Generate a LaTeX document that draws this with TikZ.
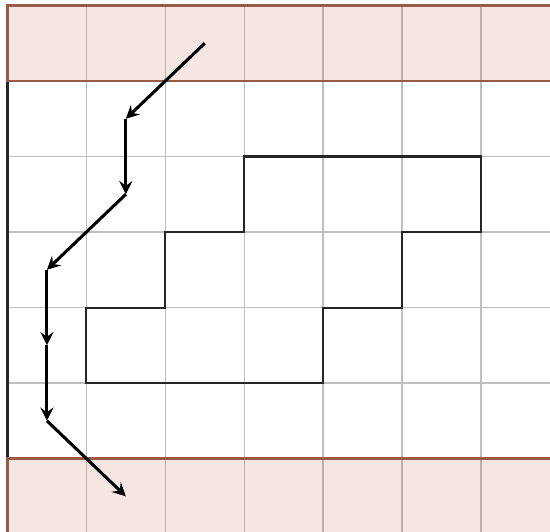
\documentclass[tikz,border=0pt]{standalone}
\usepackage{tikz}
\usetikzlibrary{
    arrows,
    calc,
    positioning
}
\definecolor{bandedge}{RGB}{150,90,70}
\definecolor{bandtint}{RGB}{175,88,68}

\begin{document}
\begin{tikzpicture}[x=1cm, y=0.957cm,
    band/.style={fill=bandtint, fill opacity=0.15, draw=bandedge, line width=0.8pt},
    gridline/.style={draw=black!25, line width=0.5pt},
    wall/.style={draw=black!85, line width=0.75pt},
    move/.style={->, >=stealth, line width=1.1pt}]
    \useasboundingbox (-0.095, 0.04) rectangle (6.876, 7.073);
    \clip (-0.095, 0.04) rectangle (6.876, 7.073);
    % grid
    \foreach \i in {1,...,7}
        \draw[gridline] (\i, -0.5) -- (\i, 7);
    \foreach \j in {1,...,6}
        \draw[gridline] (0, \j) -- (7.5, \j);
    \draw[line width=0.8pt, black!85] (0, 1) -- (0, 6);
    % bands at top and bottom
    \draw[band] (0, 6) rectangle (7.5, 7);
    \draw[band] (0, -0.5) rectangle (7.5, 1);
    % the region
    \draw[wall] (3, 5) -- (6, 5) -- (6, 4) -- (5, 4) -- (5, 3) -- (4, 3)
        -- (4, 2) -- (1, 2) -- (1, 3) -- (2, 3) -- (2, 4) -- (3, 4) -- cycle;
    % path through the cells
    \coordinate (p0) at (2.5, 6.5);
    \coordinate (p1) at (1.5, 5.5);
    \coordinate (p2) at (1.5, 4.5);
    \coordinate (p3) at (0.5, 3.5);
    \coordinate (p4) at (0.5, 2.5);
    \coordinate (p5) at (0.5, 1.5);
    \coordinate (p6) at (1.5, 0.5);
    \draw
    (p0) edge[move] (p1)
    (p1) edge[move] (p2)
    (p2) edge[move] (p3)
    (p3) edge[move] (p4)
    (p4) edge[move] (p5)
    (p5) edge[move] (p6);
\end{tikzpicture}
\end{document}
